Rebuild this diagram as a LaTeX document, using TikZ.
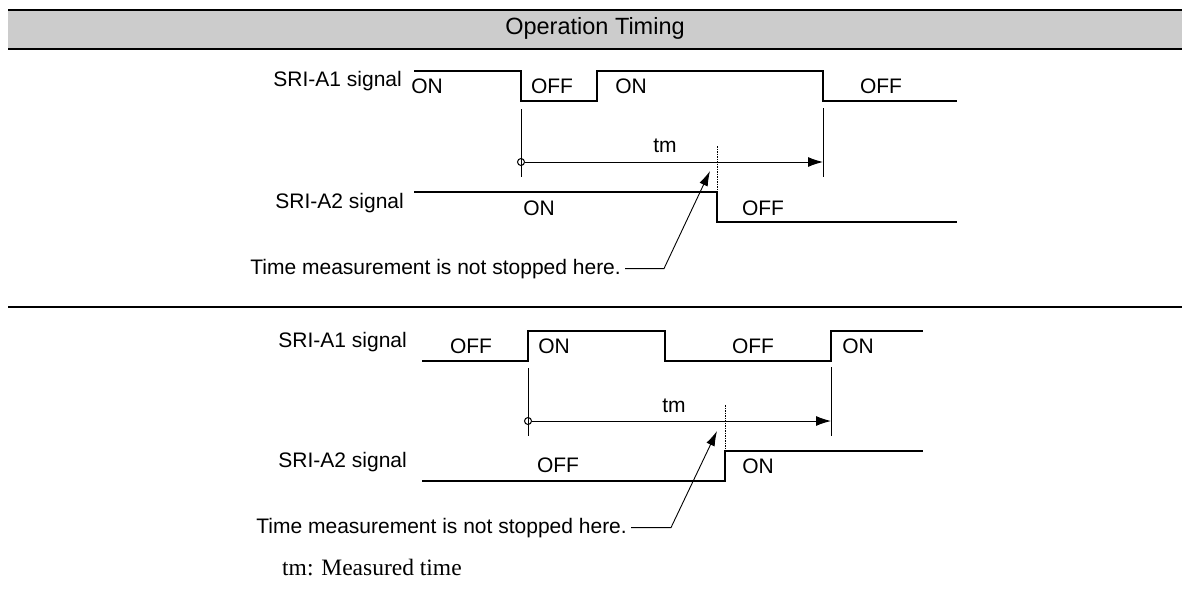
\documentclass[tikz,border=0pt]{standalone}
\usepackage{fontspec}
\setmainfont{Liberation Sans}
\newfontfamily\notefont{Liberation Serif}
\usetikzlibrary{arrows.meta}

\begin{document}
\begin{tikzpicture}[x=1pt,y=-1pt,line join=miter,
	wave/.style={line width=2.4pt},
	rule/.style={line width=2.6pt},
	markline/.style={line width=1pt},
	sigtext/.style={font=\fontsize{21}{25}\selectfont,inner sep=0pt},
	tmarrow/.style={markline,-{Latex[length=15pt,width=10pt]}},
	pointer/.style={line width=0.9pt,-{Latex[length=15pt,width=9pt]}},
	stopline/.style={line width=0.8pt,dash pattern=on 1.5pt off 1pt}]
	\useasboundingbox (0,0) rectangle (1185,589);
	
	% header
	\fill[black!20] (8,10) rectangle (1182,49);
	\draw[rule] (8,10)--(1182,10) (8,49)--(1182,49) (8,307)--(1182,307);
	\node[sigtext,font=\fontsize{23.5}{28}\selectfont,anchor=base] (title) at (595,34) {Operation Timing};
	
	% upper case: A2 turns off while A1 is on
	\node[sigtext,anchor=base east] (a1up) at (402,86) {SRI-A1 signal};
	\node[sigtext,anchor=base east] (a2up) at (404,208) {SRI-A2 signal};
	\draw[wave] (414,71)--(521,71)--(521,101)--(597,101)--(597,71)--(823,71)--(823,101)--(957,101);
	\draw[wave] (414,192)--(717,192)--(717,222)--(957,222);
	\path[sigtext,anchor=base]
	(427,93) node (up1) {ON}
	(552,93) node (up2) {OFF}
	(631,93) node (up3) {ON}
	(881,93) node (up4) {OFF}
	(539,215) node (up5) {ON}
	(763,215) node (up6) {OFF};
	\draw[markline] (521,109)--(521,177) (823,108)--(823,177);
	\coordinate (tmsU) at (521,162);
	\coordinate (tmeU) at (823,162);
	\draw[markline] (tmsU) circle (3.5);
	\draw[tmarrow] ([xshift=3.5pt]tmsU)--(tmeU);
	\node[sigtext,anchor=base] (tmU) at (665,152) {tm};
	\draw[stopline] (717,146)--(717,192);
	\node[sigtext,anchor=base east] (noteU) at (621,274) {Time measurement is not stopped here.};
	\coordinate (tipU) at (710,171);
	\draw[pointer] ([xshift=4pt]noteU.east)--++(39,0)--(tipU);
	
	% lower case: A2 turns on while A1 is off
	\node[sigtext,anchor=base east] (a1lo) at (407,347) {SRI-A1 signal};
	\node[sigtext,anchor=base east] (a2lo) at (407,467) {SRI-A2 signal};
	\draw[wave] (422,361)--(528,361)--(528,331)--(665,331)--(665,361)--(831,361)--(831,331)--(923,331);
	\draw[wave] (422,481)--(725,481)--(725,451)--(923,451);
	\path[sigtext,anchor=base]
	(471,353) node (lo1) {OFF}
	(554,353) node (lo2) {ON}
	(753,353) node (lo3) {OFF}
	(858,353) node (lo4) {ON}
	(558,472) node (lo5) {OFF}
	(758,473) node (lo6) {ON};
	\draw[markline] (528,368)--(528,436) (831,367)--(831,436);
	\coordinate (tmsL) at (528,421);
	\coordinate (tmeL) at (831,421);
	\draw[markline] (tmsL) circle (3.5);
	\draw[tmarrow] ([xshift=3.5pt]tmsL)--(tmeL);
	\node[sigtext,anchor=base] (tmL) at (674,412) {tm};
	\draw[stopline] (725,405)--(725,451);
	\node[sigtext,anchor=base east] (noteL) at (627,533) {Time measurement is not stopped here.};
	\coordinate (tipL) at (717,431);
	\draw[pointer] ([xshift=4pt]noteL.east)--++(40,0)--(tipL);
	
	\node[sigtext,font=\notefont\fontsize{23.5}{28}\selectfont,anchor=base west] (legend) at (282,575) {tm: Measured time};
\end{tikzpicture}
\end{document}
